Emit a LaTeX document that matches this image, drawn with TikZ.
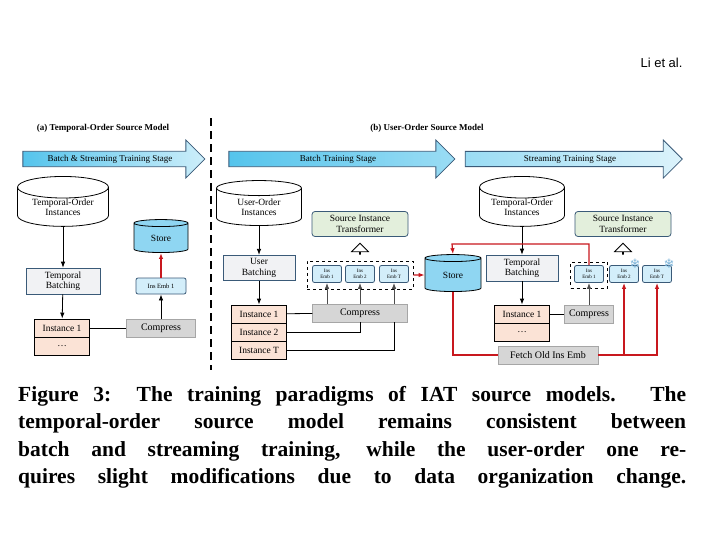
\documentclass[tikz,border=0pt]{standalone}
\usepackage{fontspec}
\setmainfont{Liberation Serif}
\newfontfamily\lisans{Liberation Sans}
\newfontfamily\djv{DejaVu Sans}
\usetikzlibrary{shapes.geometric,shapes.arrows,arrows.meta}
\definecolor{bord}{HTML}{3A5A78}
\definecolor{storef}{HTML}{8FD6F2}
\definecolor{embf}{HTML}{D3EEFA}
\definecolor{instf}{HTML}{FBE3D6}
\definecolor{batf}{HTML}{F1F2F4}
\definecolor{cmpf}{HTML}{D6D6D6}
\definecolor{trf}{HTML}{E3EFDC}
\definecolor{rd}{HTML}{C8181E}
\definecolor{bA}{HTML}{55C4EC}
\definecolor{bB}{HTML}{9ADCF4}
\definecolor{bC}{HTML}{CDEEFA}
\definecolor{bD}{HTML}{DCF3FB}
\definecolor{snow}{HTML}{7FB6DA}
\tikzset{
 txt/.style={font=\fontsize{9.5}{10.5}\selectfont,align=center},
 cyl/.style={cylinder,shape border rotate=90,draw,thick,aspect=0.35,txt,inner sep=0pt},
 batch/.style={draw=bord,thick,fill=batf,txt,minimum width=74pt,minimum height=25pt},
 inst/.style={draw,thick,fill=instf,txt,minimum width=55pt,minimum height=18pt},
 cmp/.style={draw=gray!70,fill=cmpf,txt,font=\fontsize{10}{11}\selectfont,minimum height=18pt},
 emb/.style={draw=bord,thick,fill=embf,rounded corners=2pt,align=center,font=\fontsize{5}{5.5}\selectfont,minimum width=29pt,minimum height=17pt,inner sep=0pt},
 trans/.style={draw=bord,thick,fill=trf,rounded corners=3pt,txt,minimum width=96pt,minimum height=25pt},
 stage/.style={single arrow,draw=bord,thick,single arrow head extend=8pt,minimum height=#1,minimum width=38pt,inner sep=1pt,font=\fontsize{9}{10}\selectfont},
 hollow/.style={single arrow,draw,thick,fill=white,shape border rotate=90,minimum height=11pt,minimum width=8pt,single arrow head extend=8pt,inner sep=0pt},
 ar/.style={-{Latex[length=6pt,width=4.5pt]},thick},
 rar/.style={-{Latex[length=6pt,width=4.5pt]},very thick,rd},
 rl/.style={very thick,rd},
 ttl/.style={font=\fontsize{9}{10}\selectfont\bfseries},
}
\begin{document}
\begin{tikzpicture}[x=1pt,y=-1pt]
\useasboundingbox[fill=white] (0,0) rectangle (702,536);
\node[font=\lisans\fontsize{13}{15}\selectfont,anchor=east] (li) at (686,63) {Li et al.};
\coordinate (d1) at (211,118); \coordinate (d2) at (211,370);
\draw[line width=2pt,dash pattern=on 8pt off 5pt] (d1) -- (d2);
\node[ttl] (ta) at (103,128) {(a) Temporal-Order Source Model};
\node[ttl] (tb) at (427,128) {(b) User-Order Source Model};
% stage arrows
\node[stage=182pt,left color=bA,right color=bC] (s1) at (110,159) {Batch \& Streaming Training Stage};
\node[stage=226pt,left color=bA,right color=bB] (s2) at (338,159) {Batch Training Stage};
\node[stage=217pt,left color=bB,right color=bD] (s3) at (570,159) {Streaming Training Stage};
% ---- panel a
\node[cyl,minimum width=91pt,minimum height=43pt] (ca) at (63,207) {Temporal-Order\\Instances};
\node[batch] (ba) at (63,281) {Temporal\\Batching};
\node[inst] (ia1) at (62,328) {Instance 1};
\node[inst] (ia2) at (62,346) {\dots};
\node[cmp,minimum width=69pt] (cpa) at (161,328) {Compress};
\node[emb,minimum width=50pt,minimum height=16pt,font=\fontsize{6.5}{7}\selectfont] (ea) at (161,286) {Ins Emb 1};
\node[cyl,fill=storef,minimum width=54pt,minimum height=33pt] (sa) at (161,238) {Store};
\draw[ar] (ca) -- (ba);
\draw[ar] (ba) -- (ia1);
\draw[thick] (ia1) -- (cpa);
\draw[ar] (cpa) -- (ea);
\draw[rar] (ea) -- (sa);
% ---- panel b1
\node[cyl,minimum width=85pt,minimum height=45pt] (cb) at (259,207) {User-Order\\Instances};
\node[batch,minimum width=72pt] (bb) at (259,268) {User\\Batching};
\node[inst] (ib1) at (259,314) {Instance 1};
\node[inst] (ib2) at (259,332) {Instance 2};
\node[inst] (ib3) at (259,350) {Instance T};
\node[cmp,minimum width=95pt] (cpb) at (360,313) {Compress};
\node[draw,thick,dashed,minimum width=106pt,minimum height=28pt] (db) at (360,275) {};
\node[emb] (eb1) at (327,274) {Ins\\Emb 1};
\node[emb] (eb2) at (360,274) {Ins\\Emb 2};
\node[emb] (eb3) at (394,274) {Ins\\Emb T};
\node[trans] (trb) at (360,224) {Source Instance\\Transformer};
\node[hollow] (hb) at (360,249) {};
\node[cyl,fill=storef,minimum width=56pt,minimum height=37pt] (st) at (453,275) {Store};
\draw[ar] (cb) -- (bb);
\draw[ar] (bb) -- (ib1);
\draw[thick] (ib1) -- (cpb);
\draw[thick] (ib2.east) -| (cpb.south);
\draw[thick] (ib3.east) -| (cpb.south east -| eb3);
\draw[ar,gray!60!black] (cpb.north -| eb1) -- (eb1);
\draw[ar,gray!60!black] (cpb.north) -- (eb2);
\draw[ar,gray!60!black] (cpb.north -| eb3) -- (eb3);
\draw[rar] (db.east) -- (st.west);
% ---- panel b2
\node[cyl,minimum width=85pt,minimum height=45pt] (cc) at (522,207) {Temporal-Order\\Instances};
\node[batch,minimum width=72pt] (bc) at (522,268) {Temporal\\Batching};
\node[inst] (ic1) at (522,314) {Instance 1};
\node[inst] (ic2) at (522,332) {\dots};
\node[cmp,minimum width=49pt] (cpc) at (589,314) {Compress};
\node[draw,thick,dashed,minimum width=37pt,minimum height=26pt] (dc) at (589,275) {};
\node[emb] (ec1) at (589,274) {Ins\\Emb 1};
\node[emb] (ec2) at (624,274) {Ins\\Emb 2};
\node[emb] (ec3) at (657,274) {Ins\\Emb T};
\node[font=\djv\fontsize{13}{13}\selectfont,text=snow] (f1) at (635,264) {❄};
\node[font=\djv\fontsize{13}{13}\selectfont,text=snow] (f2) at (669,264) {❄};
\node[trans] (trc) at (623,224) {Source Instance\\Transformer};
\node[hollow] (hc) at (623,249) {};
\node[cmp,minimum width=100pt] (fe) at (548,355) {Fetch Old Ins Emb};
\coordinate (r1) at (588,244); \coordinate (r2) at (452,244);
\draw[ar] (cc) -- (bc);
\draw[ar] (bc) -- (ic1);
\draw[thick] (ic1) -- (cpc);
\draw[ar,gray!60!black] (cpc) -- (ec1);
\draw[rar] (ec1.north) |- (r1) -- (r2) -- (st.north);
\draw[rl] (st.south) |- (fe.west);
\draw[rar] (fe.east) -| (ec2.south);
\draw[rar] (fe.east) -| (ec3.south);
% caption
\node[anchor=north west,inner sep=0pt,font=\bfseries\fontsize{21.5}{27.5}\selectfont,align=left] (cap) at (18,386) {%
\makebox[668pt][s]{Figure 3: The training paradigms of IAT source models. The}\\
\makebox[668pt][s]{temporal-order source model remains consistent between}\\
\makebox[668pt][s]{batch and streaming training, while the user-order one re-}\\
\makebox[668pt][s]{quires slight modifications due to data organization change.}};
\end{tikzpicture}
\end{document}
